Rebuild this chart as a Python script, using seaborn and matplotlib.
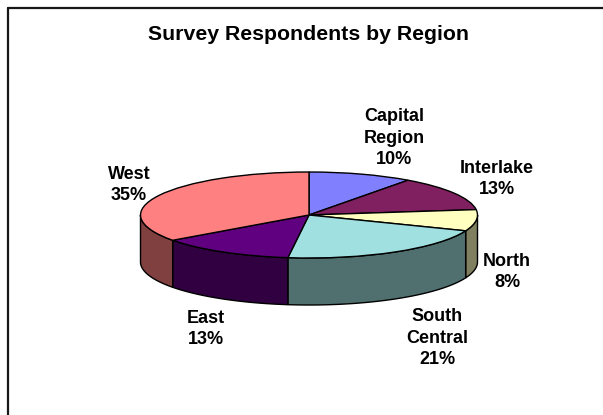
import numpy as np
import matplotlib
matplotlib.use("Agg")
import matplotlib.pyplot as plt
import seaborn as sns

# Survey share per region, clockwise from twelve o'clock
regions = ["Capital\nRegion", "Interlake", "North", "South\nCentral", "East", "West"]
shares = [10, 13, 8, 21, 13, 35]
top_hex = ["#8080FF", "#802060", "#FFFFC0", "#A0E0E0", "#600080", "#FF8080"]
side_hex = ["#404080", "#401030", "#808060", "#507070", "#300040", "#804040"]

W, H = 603, 415
CX, CY, RX, RY, DEPTH = 309.0, 215.0, 168.5, 43.0, 47.0

sns.set_theme(style="white")
plt.rcParams["font.family"] = ["Liberation Sans", "DejaVu Sans"]
top_colors = sns.color_palette(top_hex)
side_colors = sns.color_palette(side_hex)

fig = plt.figure(figsize=(W / 100, H / 100), dpi=100, facecolor="white")
ax = fig.add_axes([0, 0, 1, 1])

ax.pie(shares, colors=top_colors, startangle=90, counterclock=False, radius=1,
       wedgeprops=dict(edgecolor="black", linewidth=1.0, zorder=3))

# Flatten the unit pie into an ellipse by letting the axes stretch freely
ax.set_aspect("auto")
ax.set_xlim(-CX / RX, (W - CX) / RX)
ax.set_ylim((CY - H) / RY, CY / RY)
ax.axis("off")

# Extruded rim: only the part of each slice in the front half is visible
drop = DEPTH / RY
edges = 360 * np.cumsum([0] + shares) / sum(shares)
for start, end, col in zip(edges[:-1], edges[1:], side_colors):
    lo, hi = max(start, 90), min(end, 270)
    if hi <= lo:
        continue
    t = np.radians(np.linspace(lo, hi, 80))
    x, y = np.sin(t), np.cos(t)
    ax.fill(np.r_[x, x[::-1]], np.r_[y, y[::-1] - drop], facecolor=col,
            edgecolor="black", linewidth=1.0, zorder=2)

fig.text(309 / W, 1 - 35 / H, "Survey Respondents by Region", ha="center", va="center",
         fontsize=15.3, fontweight="bold", color="black")

label_px = [(394, 138), (497, 179), (507, 272), (437, 338), (206, 329), (129, 185)]
for name, share, (px, py) in zip(regions, shares, label_px):
    fig.text(px / W, 1 - py / H, f"{name}\n{share}%", ha="center", va="center",
             fontsize=13, fontweight="bold", color="black", linespacing=1.36)

# Chart frame, open at the right and bottom edges of the canvas
frame = dict(color="#181818", linewidth=1.6, transform=fig.transFigure)
fig.add_artist(plt.Line2D([7.7 / W, 7.7 / W], [0, 1 - 7.7 / H], **frame))
fig.add_artist(plt.Line2D([7.7 / W, 1], [1 - 7.7 / H, 1 - 7.7 / H], **frame))

fig.savefig("out.png", dpi=100)
